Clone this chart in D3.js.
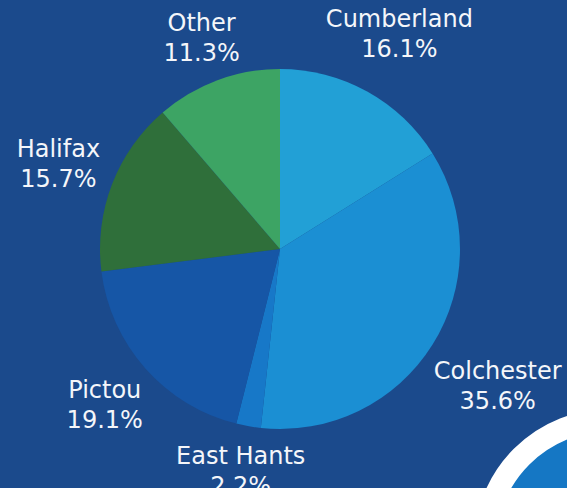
<!DOCTYPE html>
<html>
  <head>
    <meta charset="utf-8">
    <title>Share by county</title>
    <style>
      html, body { margin: 0; padding: 0; background: #1b4a8c; }
      svg { display: block; }
      .label { font-family: "DejaVu Sans", sans-serif; font-size: 24px; fill: #f4f6fa; }
    </style>
  </head>
  <body>
    <svg id="chart" width="567" height="488"></svg>
    <script src="https://d3js.org/d3.v7.min.js"></script>
    <script>
      // slices, clockwise from 12 o'clock
      const counties = ['Cumberland', 'Colchester', 'East Hants', 'Pictou', 'Halifax', 'Other']
      const shares = [16.1, 35.6, 2.2, 19.1, 15.7, 11.3]
      const colours = ['#22a0d6', '#1b8fd3', '#1778c8', '#1656a6', '#2f6f3a', '#3da464']

      const width = 567
      const height = 488
      const cx = 280
      const cy = 249
      const radius = 180
      const labelGap = 10
      const fontSize = 24
      const lineGap = 30

      const data = counties.map((name, i) => ({ name, value: shares[i] }))

      const svg = d3.select('#chart')
      svg.append('rect')
        .attr('width', width)
        .attr('height', height)
        .attr('fill', '#1b4a8c')

      // decorative ring peeking in at bottom right
      svg.append('circle')
        .attr('cx', 610)
        .attr('cy', 545)
        .attr('r', 125)
        .attr('fill', '#1577c4')
        .attr('stroke', '#ffffff')
        .attr('stroke-width', 22)

      const colour = d3.scaleOrdinal()
        .domain(counties)
        .range(colours)

      const pie = d3.pie()
        .sort(null)
        .value(d => d.value)

      const arc = d3.arc()
        .innerRadius(0)
        .outerRadius(radius)

      const arcs = pie(data)

      const g = svg.append('g')
        .attr('transform', `translate(${cx},${cy})`)

      g.selectAll('path')
        .data(arcs)
        .join('path')
          .attr('d', arc)
          .attr('fill', d => colour(d.data.name))

      // each label box sits just outside the rim, along the slice's middle angle
      const labels = g.selectAll('g.lbl')
        .data(arcs)
        .join('g')
          .attr('class', 'lbl')

      labels.each(function(d) {
        const sel = d3.select(this)
        const t = sel.append('text').attr('class', 'label').attr('text-anchor', 'middle')
        t.append('tspan').attr('x', 0).attr('y', -lineGap / 2).text(d.data.name)
        t.append('tspan').attr('x', 0).attr('y', lineGap / 2).text(d.data.value.toFixed(1) + '%')
        const w = t.node().getBBox().width
        const h = lineGap + fontSize * 0.73          // cap top of line 1 to baseline of line 2
        const a = (d.startAngle + d.endAngle) / 2
        const ux = Math.sin(a)
        const uy = -Math.cos(a)
        const dist = radius + labelGap + Math.abs(ux) * w / 2 + Math.abs(uy) * h / 2
        const x = ux * dist
        const y = uy * dist + (h / 2 - lineGap / 2)
        sel.attr('transform', `translate(${x},${y})`)
      })
    </script>
  </body>
</html>
